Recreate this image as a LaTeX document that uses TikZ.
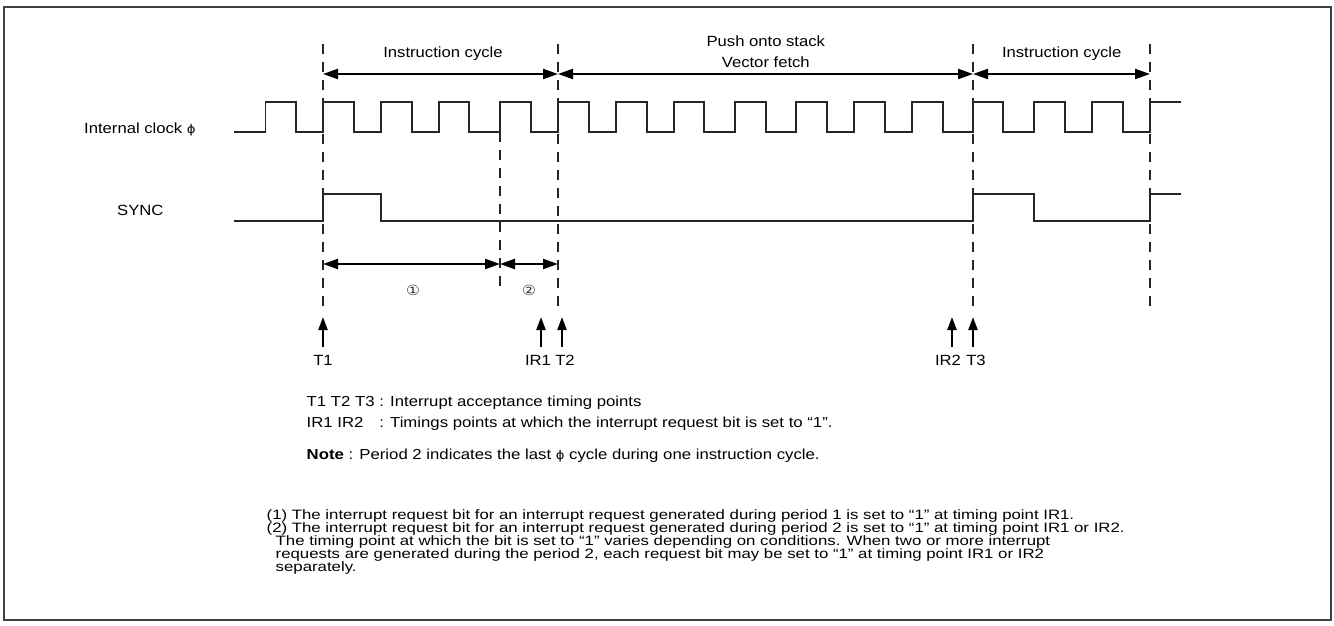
\documentclass[tikz,border=0pt]{standalone}
\usepackage{fontspec}
\setmainfont{Liberation Sans}[FakeStretch=1.125]
\newfontfamily\legendfont{Liberation Sans}[FakeStretch=1.155]
\newfontfamily\notefont{Liberation Sans}[FakeStretch=1.235]
\newfontfamily\symfont{DejaVu Sans}[FakeStretch=1.1]
\newcommand{\phisym}{{\symfont\fontsize{12}{12}\selectfont ϕ}}
\usetikzlibrary{arrows.meta}
\begin{document}
\begin{tikzpicture}[x=1pt,y=-1pt,
  wave/.style={line width=1.3pt, draw=black!85},
  guide/.style={line width=1.1pt, draw=black!85, dash pattern=on 10pt off 8pt},
  span/.style={line width=2.2pt, {Triangle[length=15pt,width=10pt]}-{Triangle[length=15pt,width=10pt]}},
  uparrow/.style={line width=2.2pt, -{Triangle[length=13pt,width=9pt]}},
  lbl/.style={font=\fontsize{14.8}{16}\selectfont, inner sep=0pt},
  legend/.style={font=\legendfont\fontsize{14.5}{16}\selectfont, inner sep=0pt},
  note/.style={font=\notefont\fontsize{13.6}{13}\selectfont, inner sep=0pt},
  circ/.style={font=\symfont\fontsize{14}{14}\selectfont, inner sep=0pt, text=black!80},
]
\useasboundingbox (0,0) rectangle (1334,626);
\draw[line width=2pt, draw=black!75] (3.5,7) rectangle (1330.5,620);

% signal names
\node[lbl, anchor=base west] (clk) at (84,133.5) {Internal clock \phisym};
\node[lbl, anchor=base west] (sync) at (117,215.5) {SYNC};

% clock waveform
\draw[wave] (234,132)
  foreach \r/\f in {265.7/296, 323/354, 381/412, 439/469, 500/531, 558/589, 616/647,
                    674/704, 735/766, 796/827, 854/885, 912/943, 973/1003, 1034/1065, 1092/1123}
  { -- (\r,132) -- (\r,102) -- (\f,102) -- (\f,132) }
  -- (1150,132) -- (1150,102) -- (1181,102);

% SYNC waveform
\draw[wave] (234,221) -- (323,221) -- (323,194) -- (381,194) -- (381,221)
  -- (973,221) -- (973,194) -- (1034,194) -- (1034,221)
  -- (1150,221) -- (1150,194) -- (1181,194);

% dashed guide lines
\coordinate (g1a) at (323,44);  \coordinate (g1b) at (323,310);
\coordinate (gpa) at (500,132); \coordinate (gpb) at (500,293);
\coordinate (g2a) at (558,44);  \coordinate (g2b) at (558,312);
\coordinate (g3a) at (973,44);  \coordinate (g3b) at (973,312);
\coordinate (g4a) at (1150,44); \coordinate (g4b) at (1150,312);
\draw[guide] (g1a) -- (g1b);
\draw[guide] (gpa) -- (gpb);
\draw[guide] (g2a) -- (g2b);
\draw[guide] (g3a) -- (g3b);
\draw[guide] (g4a) -- (g4b);

% cycle spans
\coordinate (s1) at (323,74); \coordinate (s2) at (558,74);
\coordinate (s3) at (973,74); \coordinate (s4) at (1150,74);
\draw[span] (s1) -- (s2);
\draw[span] (s2) -- (s3);
\draw[span] (s3) -- (s4);
\node[lbl, anchor=base] (ic1) at (443,57.5) {Instruction cycle};
\node[lbl, anchor=base] (push) at (765.8,46.5) {Push onto stack};
\node[lbl, anchor=base] (vec) at (765.8,67) {Vector fetch};
\node[lbl, anchor=base] (ic2) at (1061.7,57.5) {Instruction cycle};

% periods 1 and 2
\coordinate (p1) at (323,264); \coordinate (p2) at (500,264); \coordinate (p3) at (558,264);
\draw[span] (p1) -- (p2);
\draw[span] (p2) -- (p3);
\node[circ] (c1) at (413,290) {①};
\node[circ] (c2) at (529,290) {②};

% timing point arrows
\node[lbl, anchor=base] (lT1) at (323,365.5) {T1};
\node[lbl, anchor=base] (lIR1) at (538,365.5) {IR1};
\node[lbl, anchor=base] (lT2) at (565,365.5) {T2};
\node[lbl, anchor=base] (lIR2) at (948,365.5) {IR2};
\node[lbl, anchor=base] (lT3) at (976,365.5) {T3};
\coordinate (aT1) at (323,347);  \coordinate (hT1) at (323,317);
\coordinate (aIR1) at (541,347); \coordinate (hIR1) at (541,317);
\coordinate (aT2) at (562,347);  \coordinate (hT2) at (562,317);
\coordinate (aIR2) at (952,347); \coordinate (hIR2) at (952,317);
\coordinate (aT3) at (973,347);  \coordinate (hT3) at (973,317);
\draw[uparrow] (aT1) -- (hT1);
\draw[uparrow] (aIR1) -- (hIR1);
\draw[uparrow] (aT2) -- (hT2);
\draw[uparrow] (aIR2) -- (hIR2);
\draw[uparrow] (aT3) -- (hT3);

% legend
\node[legend, anchor=base west] (n1) at (306.5,406) {T1 T2 T3 : Interrupt acceptance timing points};
\node[legend, anchor=base west] (n2) at (306.5,427) {\rlap{IR1 IR2}\phantom{T1 T2 T3} : Timings points at which the interrupt request bit is set to “1”.};
\node[legend, anchor=base west] (n3) at (306.5,459.5) {\textbf{Note} : Period 2 indicates the last \phisym\ cycle during one instruction cycle.};

% numbered notes
\node[note, anchor=base west] (m1) at (266.5,519.5) {(1) The interrupt request bit for an interrupt request generated during period 1 is set to “1” at timing point IR1.};
\node[note, anchor=base west] (m2) at (266.5,532.6) {(2) The interrupt request bit for an interrupt request generated during period 2 is set to “1” at timing point IR1 or IR2.};
\node[note, anchor=base west] (m3) at (275.5,545.7) {The timing point at which the bit is set to “1” varies depending on conditions. When two or more interrupt};
\node[note, anchor=base west] (m4) at (275.5,558.8) {requests are generated during the period 2, each request bit may be set to “1” at timing point IR1 or IR2};
\node[note, anchor=base west] (m5) at (275.5,571.9) {separately.};
\end{tikzpicture}
\end{document}
